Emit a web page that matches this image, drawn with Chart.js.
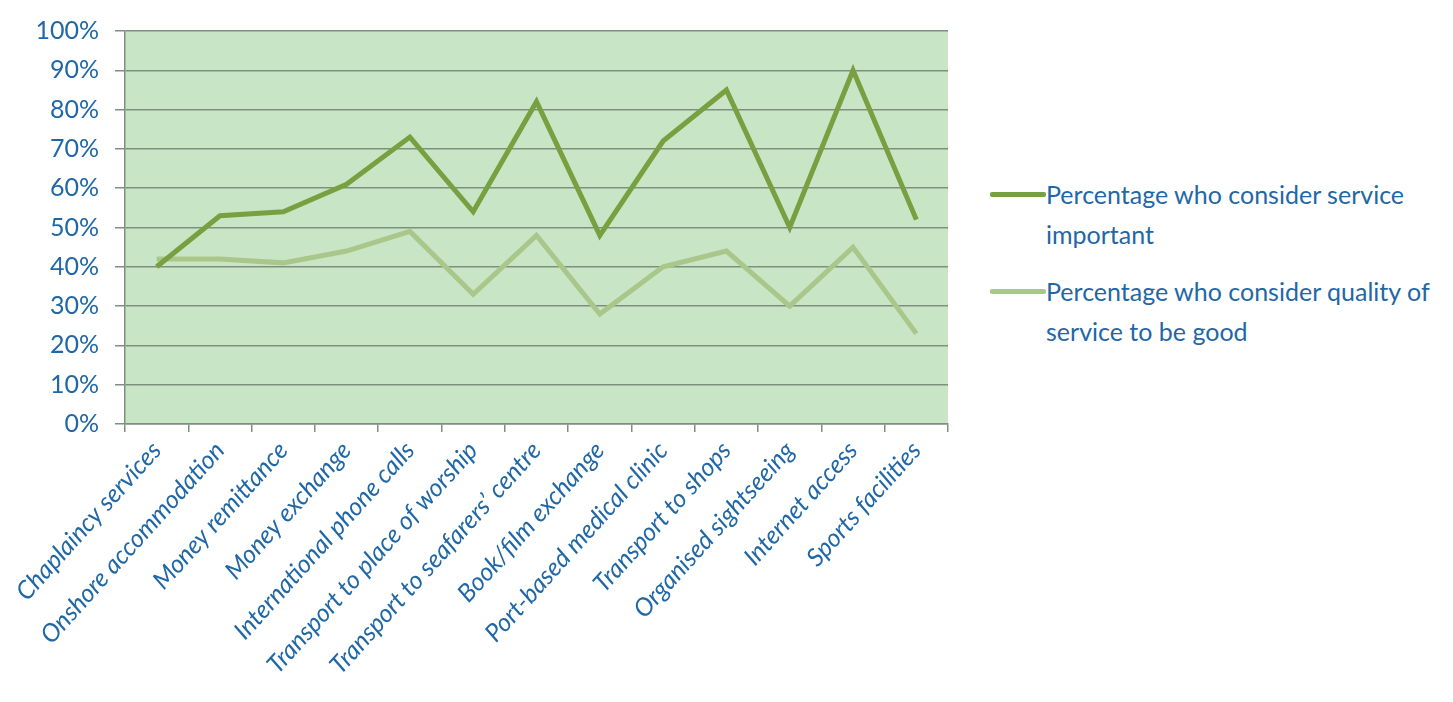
<!DOCTYPE html>
<html>
<head>
<meta charset="utf-8">
<script src="https://cdn.jsdelivr.net/npm/chart.js@4"></script>
<style>
  body { margin: 0; background: #fff; width: 1453px; height: 702px; overflow: hidden; position: relative; font-family: Lato, sans-serif; }
  #wrap { position: absolute; left: 0; top: 0; width: 960px; height: 702px; }
  #legend { position: absolute; left: 990px; top: 174px; width: 463px; }
  .item { display: flex; align-items: flex-start; margin-bottom: 17px; }
  .swatch { width: 56px; height: 5px; margin-top: 18px; flex: none; border-radius: 2px; }
  .text { color: #1f67a6; font-size: 25px; line-height: 40px; }
</style>
</head>
<body>
<div id="wrap"><canvas id="chart"></canvas></div>
<div id="legend"></div>
<script>
// categories along the x axis
const services = [
  'Chaplaincy services', 'Onshore accommodation', 'Money remittance', 'Money exchange',
  'International phone calls', 'Transport to place of worship', 'Transport to seafarers\u2019 centre',
  'Book/film exchange', 'Port-based medical clinic', 'Transport to shops',
  'Organised sightseeing', 'Internet access', 'Sports facilities'
];

// percentages
const importantPct = [40, 53, 54, 61, 73, 54, 82, 48, 72, 85, 50, 90, 52];
const qualityPct   = [42, 42, 41, 44, 49, 33, 48, 28, 40, 44, 30, 45, 23];

const seriesNames = [
  'Percentage who consider service important',
  'Percentage who consider quality of service to be good'
];
const seriesColors = ['#77a040', '#a9c78a'];

const textBlue = '#1f67a6';
const gridGray = '#7e8f80';

// green plot background
const plotBg = {
  id: 'plotBg',
  beforeDraw(chart) {
    const { ctx, chartArea: a } = chart;
    ctx.save();
    ctx.fillStyle = '#c8e6c6';
    ctx.fillRect(a.left, a.top, a.right - a.left, a.bottom - a.top);
    ctx.restore();
  }
};

const canvas = document.getElementById('chart');
canvas.width = 960;
canvas.height = 702;

const chart = new Chart(canvas.getContext('2d'), {
  type: 'line',
  data: {
    labels: services,
    datasets: [
      { label: seriesNames[0], data: importantPct, borderColor: seriesColors[0], borderWidth: 5, pointRadius: 0, tension: 0, fill: false },
      { label: seriesNames[1], data: qualityPct, borderColor: seriesColors[1], borderWidth: 5, pointRadius: 0, tension: 0, fill: false }
    ]
  },
  options: {
    responsive: false,
    animation: false,
    layout: { padding: { top: 26, right: 12, left: 0, bottom: 0 } },
    plugins: {
      legend: { display: false },
      tooltip: { enabled: false }
    },
    scales: {
      x: {
        offset: true,
        grid: { offset: true, drawOnChartArea: false, drawTicks: true, tickLength: 8, color: gridGray, lineWidth: 1.5 },
        border: { display: true, color: gridGray, width: 1.5 },
        ticks: {
          autoSkip: false,
          minRotation: 48,
          maxRotation: 48,
          padding: 4,
          color: textBlue,
          font: { family: 'Lato', size: 25, style: 'italic' }
        },
        afterFit(scale) {
          scale.height = 278;
          scale.paddingLeft = 0;
          scale.paddingRight = 0;
        }
      },
      y: {
        min: 0,
        max: 100,
        ticks: {
          stepSize: 10,
          padding: 16,
          color: textBlue,
          font: { family: 'Lato', size: 25 },
          callback: v => v + '%'
        },
        grid: { color: gridGray, lineWidth: 1.5, tickLength: 10 },
        border: { display: true, color: gridGray, width: 1.5 },
        afterFit(scale) {
          scale.width = 125;
        }
      }
    }
  },
  plugins: [plotBg]
});

// legend built from the dataset labels so the text can wrap
const legendEl = document.getElementById('legend');
chart.data.datasets.forEach(ds => {
  const item = document.createElement('div');
  item.className = 'item';
  const sw = document.createElement('div');
  sw.className = 'swatch';
  sw.style.background = ds.borderColor;
  const txt = document.createElement('div');
  txt.className = 'text';
  txt.textContent = ds.label;
  item.appendChild(sw);
  item.appendChild(txt);
  legendEl.appendChild(item);
});
</script>
</body>
</html>
